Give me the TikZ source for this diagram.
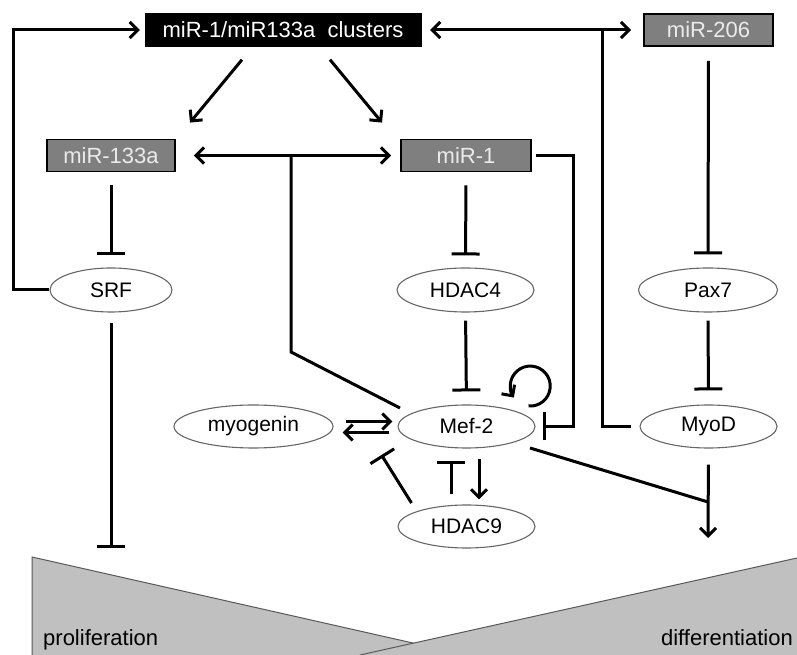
\documentclass[tikz,border=0pt]{standalone}
\usepackage{fontspec}
\setmainfont{Liberation Sans}
\usepackage{xcolor}
\usepackage{tikz}
\usetikzlibrary{positioning,arrows.meta,shapes.geometric}
\definecolor{mirgray}{RGB}{127,127,127}
\definecolor{wedgegray}{RGB}{192,192,192}

\begin{document}
\begin{tikzpicture}[x=1pt, y=1pt,
  clusterbox/.style={draw=black, fill=black, text=white, minimum height=33pt, font=\fontsize{22}{26}\selectfont},
  mirbox/.style={draw=black, line width=1.8pt, fill=mirgray, text=white!92!black, minimum height=32pt, font=\fontsize{22}{26}\selectfont},
  gene/.style={ellipse, draw=black!60, line width=1.1pt, fill=white, minimum width=137pt, minimum height=43pt, inner sep=0pt, font=\fontsize{21}{24}\selectfont},
  link/.style={line width=3pt},
  act/.style={link, -{Straight Barb[length=8pt,width=16pt]}},
  both/.style={link, {Straight Barb[length=8pt,width=16pt]}-{Straight Barb[length=8pt,width=16pt]}},
  inh/.style={link, -{Bar[width=28pt]}},
  wedge/.style={draw=black!65, line width=1pt},
  lbl/.style={inner sep=0pt, font=\fontsize{22}{26}\selectfont}]
\useasboundingbox (0,0) rectangle (797,655);

% Proliferation / differentiation wedges
\fill[wedgegray] (32,98) -- (466,0) -- (32,0) -- cycle;
\draw[wedge] (32,0) -- (32,98) -- (466,0);
\fill[wedgegray] (797,97) -- (797,0) -- (360,0) -- cycle;
\draw[wedge] (360,0) -- (797,97);
\node[lbl, anchor=base west] (prolabel) at (43,9) {proliferation};
\node[lbl, anchor=base east] (difflabel) at (793,9) {differentiation};

% microRNAs
\node[clusterbox, minimum width=276pt] (clusters) at (283,625) {miR-1/miR133a\ \ clusters};
\node[mirbox, minimum width=129pt] (mir206) at (708.5,625) {miR-206};
\node[mirbox, minimum width=128pt] (mir133a) at (111,499.5) {miR-133a};
\node[mirbox, minimum width=130pt] (mir1) at (466,499.5) {miR-1};

% Targets
\node[gene, minimum width=122pt, minimum height=44pt] (srf) at (111,365) {SRF};
\node[gene, minimum height=44pt] (hdac4) at (465.5,365) {HDAC4};
\node[gene, minimum width=139pt, minimum height=44pt] (pax7) at (708,365) {Pax7};
\node[gene, minimum width=159pt] (myogenin) at (253.5,228.5) {myogenin};
\node[gene] (mef2) at (466.5,228.5) {Mef-2};
\node[gene] (myod) at (708.5,228.5) {MyoD};
\node[gene] (hdac9) at (466.5,128.5) {HDAC9};

% Feedback and cluster links
\draw[act, shorten >=5pt] (srf.west) -- ++(-36,0) |- (clusters.west);
\draw[act] ([xshift=-41pt,yshift=-13pt]clusters.south) -- ([xshift=79pt,yshift=16pt]mir133a.north);
\draw[act] ([xshift=47pt,yshift=-13pt]clusters.south) -- ([xshift=-84pt,yshift=16pt]mir1.north);
\draw[both, shorten <=9pt, shorten >=12pt] (clusters.east) -- (mir206.west);
\coordinate (j206) at (602,625);
\draw[link, shorten >=8pt] (j206) |- (myod.west);
\draw[both, shorten <=18pt, shorten >=9pt] (mir133a.east) -- (mir1.west);
\coordinate (j133) at (291,499.5);
\coordinate (m133) at (400,247);
\draw[link] (j133) -- ++(0,-196.5) -- (m133);

% Repressions
\draw[inh, shorten <=13pt, shorten >=12pt] (mir133a.south) -- (srf.north);
\draw[inh, shorten <=13pt, shorten >=12pt] (mir1.south) -- (hdac4.north);
\draw[inh, shorten <=14pt, shorten >=13pt] (mir206.south) -- (pax7.north);
\draw[inh, shorten <=8pt, shorten >=13pt] (hdac4.south) -- (mef2.north);
\draw[inh, shorten <=8pt, shorten >=14pt] (pax7.south) -- (myod.north);
\coordinate (prolif) at (111,107);
\draw[inh, shorten <=10pt] (srf.south) -- (prolif);
\draw[inh, shorten <=4pt, shorten >=7pt] (mir1.east) -- ++(42,0) |- (mef2.east);

% Mef-2 loops
\draw[act] ([shift={(62,20.5)}]mef2.center) arc[start angle=-95, end angle=215, radius=20];
\draw[act, shorten <=12pt, shorten >=5pt] ([yshift=5pt]myogenin.east) -- ([yshift=5pt]mef2.west);
\draw[act, shorten <=8pt, shorten >=9pt] ([yshift=-6pt]mef2.west) -- ([yshift=-6pt]myogenin.east);
\draw[inh] ([shift={(-55,23.5)}]hdac9.center) -- ++(-30,48);
\draw[inh, shorten <=10pt, shorten >=12pt] ([xshift=-15.5pt]hdac9.north) -- ([xshift=-15.5pt]mef2.south);
\draw[act, shorten <=10pt, shorten >=5pt] ([xshift=12.5pt]mef2.south) -- ([xshift=12.5pt]hdac9.north);

% Towards differentiation
\coordinate (merge) at (708,153);
\coordinate (diff) at (708,117);
\draw[link] ([shift={(63.5,-21.5)}]mef2.center) -- (merge);
\draw[act, shorten <=16pt] (myod.south) -- (diff);
\end{tikzpicture}
\end{document}
